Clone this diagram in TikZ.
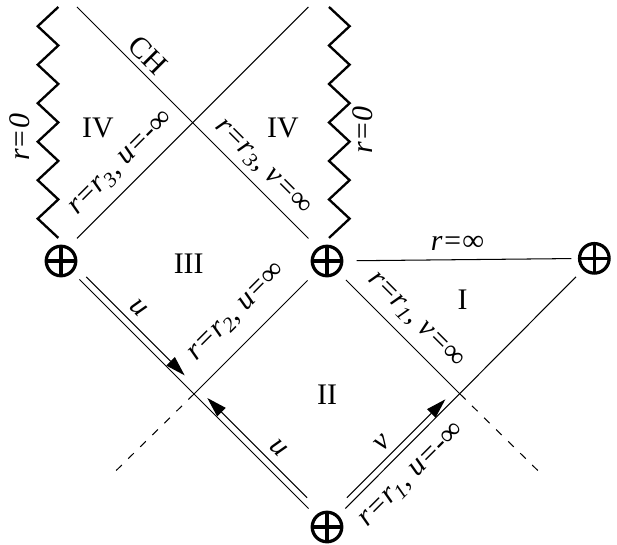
\documentclass[tikz,border=0pt]{standalone}
\usepackage{fontspec}
\setmainfont{Liberation Serif}
\usepackage{tikz}
\usetikzlibrary{arrows.meta}
\usetikzlibrary{positioning}

\tikzset{
  pole/.style={circle,draw,line width=1.25pt,minimum size=4mm,inner sep=0pt,
    path picture={\draw[line width=1.25pt]
      (path picture bounding box.north) -- (path picture bounding box.south)
      (path picture bounding box.west) -- (path picture bounding box.east);}},
  sing/.style={line width=0.9pt,line join=miter},
  ray/.style={shorten <=1.3mm,shorten >=1.3mm},
  flow/.style={-{Triangle[length=2.7mm,width=1.6mm]}},
  ext/.style={dash pattern=on 3pt off 3.5pt},
  region/.style={font=\fontsize{11.5}{13}\selectfont,inner sep=1pt},
  tag/.style={font=\fontsize{11.5}{13}\selectfont\itshape,inner sep=1pt},
}

\begin{document}
\begin{tikzpicture}[x=1.8cm,y=1.8cm]
    \useasboundingbox (-0.4586,-2.1278) rectangle (4.1805,1.9624);

    % the four corners
    \node[pole] (L) at (0,0) {};
    \node[pole] (M) at (2,0) {};
    \node[pole] (R) at (4.01,0.02) {};
    \node[pole] (B) at (2,-2) {};

    \coordinate (X1) at (1,-1);
    \coordinate (X2) at (3,-1);
    \coordinate (d1) at (0.4,-1.59);
    \coordinate (d2) at (3.6,-1.59);

    % upper region
    \coordinate (a1) at (0.12,0.17);
    \coordinate (a2) at (1.86,1.91);
    \coordinate (b1) at (0.12,1.91);
    \coordinate (b2) at (1.86,0.17);
    \draw (a1) -- (a2);
    \draw (b1) -- (b2);

    % singularities r=0
    \draw[sing] (-0.02,1.91) \foreach \k in {1,...,6}{ -- ++(-0.155,-0.1447) -- ++(0.155,-0.1447) };
    \draw[sing] (2.015,1.91) \foreach \k in {1,...,6}{ -- ++(0.155,-0.1447) -- ++(-0.155,-0.1447) };

    % horizons
    \draw[ray] (L) -- (B);
    \draw[ray] (B) -- (R);
    \draw[ray,shorten <=1.8mm,shorten >=0.9mm] (M) -- (R);
    \draw[shorten <=1.5mm] (M) -- (X1);
    \draw[shorten <=1.4mm] (M) -- (X2);
    \draw[ext] (X1) -- (d1);
    \draw[ext] (X2) -- (d2);

    % coordinate arrows
    \coordinate (u1s) at (0.19,-0.12);
    \coordinate (u1e) at (0.93,-0.86);
    \coordinate (u2s) at (1.85,-1.78);
    \coordinate (u2e) at (1.10,-1.03);
    \coordinate (v1s) at (2.15,-1.78);
    \coordinate (v1e) at (2.89,-1.04);
    \draw[flow] (u1s) -- (u1e);
    \draw[flow] (u2s) -- (u2e);
    \draw[flow] (v1s) -- (v1e);

    % labels
    \node[tag,rotate=90] at (-0.31,0.93) {r=0};
    \node[tag,rotate=90] at (2.27,0.985) {r=0};
    \node[region,rotate=-45] at (0.654,1.549) {CH};
    \node[region] at (0.278,1.0) {IV};
    \node[region] at (1.669,1.0) {IV};
    \node[region] at (0.96,-0.02) {III};
    \node[region] at (3.02,-0.293) {I};
    \node[region] at (2.0,-1.008) {II};
    \node[tag,rotate=45] at (0.46,0.73) {r=r\textsubscript{3}, u=-∞};
    \node[tag,rotate=-45] at (1.51,0.70) {r=r\textsubscript{3}, v=∞};
    \node[tag,rotate=45] at (1.33,-0.39) {r=r\textsubscript{2}, u=∞};
    \node[tag,rotate=-45] at (2.66,-0.45) {r=r\textsubscript{1}, v=∞};
    \node[tag,rotate=45] at (2.645,-1.615) {r=r\textsubscript{1}, u=-∞};
    \node[tag] at (2.98,0.135) {r=∞};
    \node[tag,rotate=-45] at (0.58,-0.353) {u};
    \node[tag,rotate=-45] at (1.632,-1.404) {u};
    \node[tag,rotate=45] at (2.42,-1.368) {v};
\end{tikzpicture}
\end{document}
